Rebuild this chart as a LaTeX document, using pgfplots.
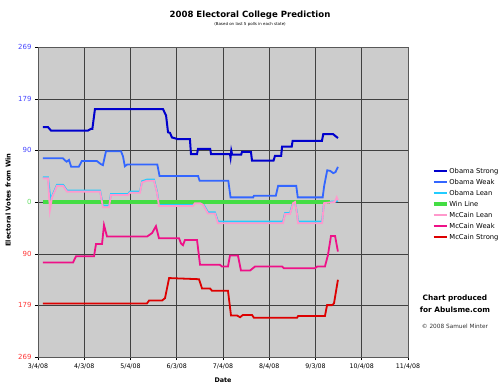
\documentclass[border=0pt]{standalone}
\usepackage{fontspec}
\setmainfont{DejaVu Sans}
\usepackage{pgfplots}
\pgfplotsset{compat=1.18}
\definecolor{ostrong}{HTML}{0000CC}
\definecolor{oweak}{HTML}{3366FF}
\definecolor{olean}{HTML}{22CCFF}
\definecolor{winline}{HTML}{44DD44}
\definecolor{mlean}{HTML}{FF99CC}
\definecolor{mweak}{HTML}{EE1188}
\definecolor{mstrong}{HTML}{DD0000}
\definecolor{plotgray}{HTML}{CCCCCC}
\definecolor{tblue}{HTML}{4444FF}
\definecolor{tgreen}{HTML}{66DD66}
\definecolor{tred}{HTML}{FF3333}
\begin{document}
\begin{tikzpicture}
\begin{axis}[
  scale only axis, width=370bp, height=310bp,
  xmin=0, xmax=245, ymin=-269, ymax=269,
  axis background/.style={fill=plotgray},
  xtick={0,30.625,61.25,91.875,122.5,153.125,183.75,214.375,245},
  xticklabels={3/4/08,4/3/08,5/4/08,6/3/08,7/4/08,8/4/08,9/3/08,10/4/08,11/4/08},
  ytick={-269,-179,-90,0,90,179,269},
  yticklabels={\textcolor{tred}{269},\textcolor{tred}{179},\textcolor{tred}{90},\textcolor{tgreen}{0},\textcolor{tblue}{90},\textcolor{tblue}{179},\textcolor{tblue}{269}},
  grid=major, major grid style={draw=black!75, line width=0.7bp},
  axis line style={draw=gray!70!black, line width=0.8bp},
  tick pos=left, tick align=outside, major tick length=3bp,
  tick style={black, line width=0.6bp},
  /pgf/number format/assume math mode=true,
  x tick label style={font=\fontsize{6.3}{7}\selectfont},
  y tick label style={font=\fontsize{7}{8}\selectfont},
  xlabel={Date},
  xlabel style={font=\bfseries\fontsize{6.4}{7}\selectfont, at={(axis description cs:0.5,-0.074)}, anchor=center},
  ylabel={Electoral Votes from Win},
  ylabel style={font=\bfseries\fontsize{6.7}{7}\selectfont, at={(axis description cs:-0.081,0.506)}, anchor=center},
  legend image code/.code={\draw[#1] (0bp,0bp) -- (13bp,0bp);},
  legend cell align=left,
  legend style={at={(1.056,0.621)}, anchor=north west, draw=none, fill=none,
    font=\fontsize{6.8}{8}\selectfont,
    nodes={inner sep=1bp, text height=5.5bp, text depth=1.5bp},
    row sep=2bp},
]
\addplot[ostrong, line width=2bp] coordinates {
(3.3,130)(6.6,130)(8.6,124)(33.1,124)(35.1,127)(36,127)(37.7,161)(82.8,161)(84.8,150)(86.1,121)(87.4,120)(88.7,112)(91.4,110)(92.7,109)(100.6,109)(101.3,83)(105.3,83)(105.9,92)(114,92)(114.6,83)(127.1,83)(127.5,77)(128,89)(128.6,82)(134.5,82)(135.1,87)(141,87)(141.7,72)(156,72)(156.9,80)(161,80)(161.6,96)(168,96)(168.6,106)(188,106)(188.9,118)(195.3,118)(198.6,111)};
\addlegendentry{Obama Strong}
\addplot[oweak, line width=1.8bp] coordinates {
(3.3,76)(16.5,76)(18,72)(19,70)(20.5,73)(22,61)(27,61)(29,71)(39,71)(41.5,66)(43,64)(45,88)(55,88)(56.3,79)(57.5,62)(59,65)(79,65)(80.5,45)(106,45)(107,37)(126,37)(127.5,8)(142.5,8)(143,11)(157.5,11)(159,28)(171,28)(172,8)(188.5,8)(189.5,28)(191.5,55)(193.5,54)(195.5,50)(197,52)(198.6,61)};
\addlegendentry{Obama Weak}
\addplot[olean, line width=1.8bp] coordinates {
(3.3,43)(6.6,43)(7.6,20)(8.3,3)(9.3,10)(12.6,30)(16.6,30)(19.2,20)(41.1,20)(43,-6)(47,-6)(48.3,14)(59.6,14)(60.9,18)(67.5,18)(68.9,36)(72.2,39)(76.8,39)(78.8,18)(80.1,-4)(102.6,-4)(103.9,0)(107.3,0)(109.3,-3)(112.6,-18)(117.2,-18)(119.2,-34)(162.2,-34)(163.6,-19)(166.9,-19)(168.9,0)(170.2,1)(171.5,-19)(172.2,-34)(188.1,-34)(189.4,0)(197.3,1)(198.6,2)};
\addlegendentry{Obama Lean}
\addplot[winline, line width=3.5bp] coordinates {(3.3,0)(193.5,0)};
\addlegendentry{Win Line}
\addplot[mlean, line width=1.8bp] coordinates {
(3.3,41)(6.6,41)(7.9,-14)(9.3,8)(12.6,28)(16.6,28)(19.2,18)(41.1,18)(43,-9)(47,-9)(48.3,12)(59.6,12)(60.9,16)(67.5,16)(68.9,34)(72.2,37)(76.8,37)(78.8,16)(80.1,-7)(102.6,-7)(103.9,-2)(107.3,-2)(109.3,-5)(112.6,-20)(117.2,-20)(119.2,-37)(162.2,-37)(163.6,-21)(166.9,-21)(168.9,-2)(170.2,0)(171.5,-21)(172.2,-37)(188.1,-37)(189.4,-2)(196.5,0)(197.8,8)(198.6,3)};
\addlegendentry{McCain Lean}
\addplot[mweak, line width=1.8bp] coordinates {
(3.3,-105)(23.2,-105)(25.2,-94)(37.1,-94)(38.4,-73)(42.4,-73)(43.7,-40)(45.7,-60)(72.2,-60)(75.5,-54)(78.1,-42)(80.1,-63)(93.4,-63)(94.7,-72)(96,-75)(97.3,-66)(105.3,-66)(107.3,-109)(120.5,-109)(121.8,-112)(125.8,-112)(127.1,-93)(132.4,-93)(134.4,-119)(140.4,-119)(143.7,-112)(161.6,-112)(162.9,-115)(183.4,-115)(184.8,-112)(190,-112)(192,-92)(194,-59)(196.7,-59)(198.6,-86)};
\addlegendentry{McCain Weak}
\addplot[mstrong, line width=1.8bp] coordinates {
(3.3,-176)(72.2,-176)(73.5,-171)(82.1,-171)(84.1,-167)(86.8,-132)(106.6,-134)(108.6,-150)(113.9,-150)(115.2,-154)(125.8,-154)(127.8,-197)(131.8,-197)(133.8,-200)(135.7,-196)(141.7,-196)(143,-201)(171.5,-201)(172.2,-198)(190,-198)(191.4,-179)(194.7,-179)(196,-176)(198.6,-135)};
\addlegendentry{McCain Strong}
\end{axis}
\node[font=\bfseries\fontsize{8.6}{10}\selectfont] at (212bp,342bp) {2008 Electoral College Prediction};
\node[font=\fontsize{4}{5}\selectfont] at (212bp,333bp) {(Based on last 5 polls in each state)};
\node[font=\bfseries\fontsize{7.4}{9}\selectfont] at (417bp,59bp) {Chart produced};
\node[font=\bfseries\fontsize{7.4}{9}\selectfont] at (417bp,47bp) {for Abulsme.com};
\node[font=\fontsize{5.8}{7}\selectfont, text=black!80] at (417bp,31bp) {\textcopyright{} 2008 Samuel Minter};
\pgfresetboundingbox
\path (-38bp,-34bp) rectangle (462bp,357bp);
\end{tikzpicture}
\end{document}
